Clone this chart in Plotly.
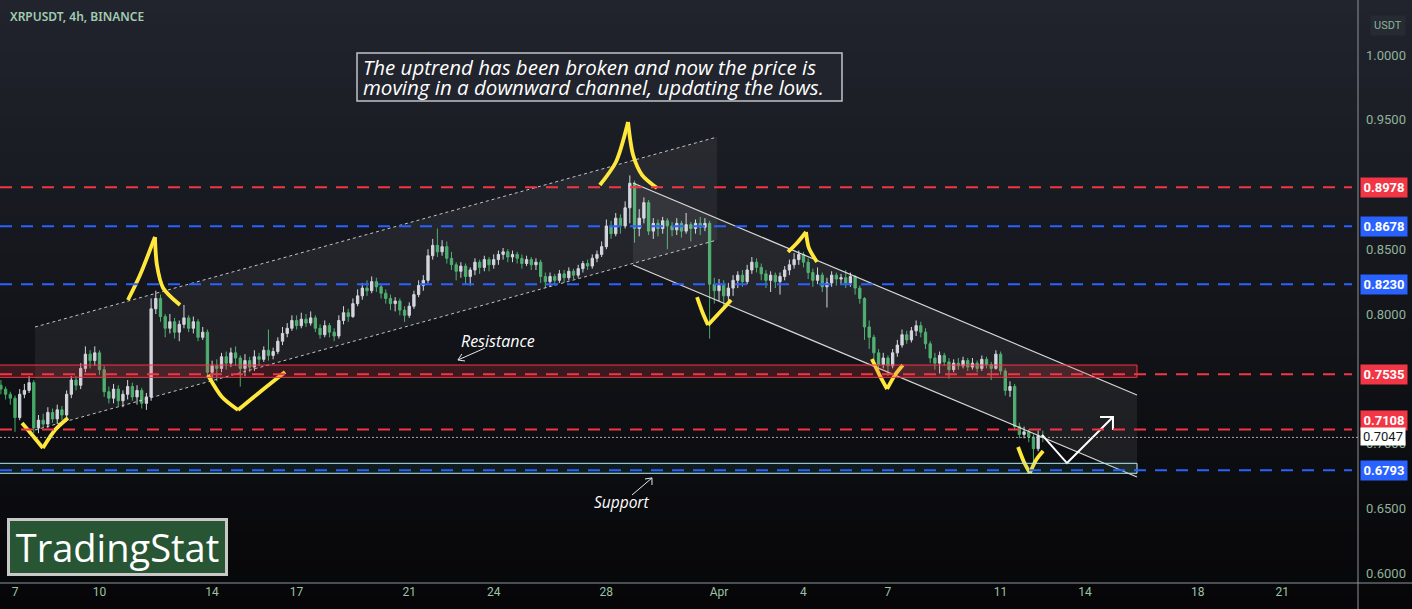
import pandas as pd
import plotly.graph_objects as go

# ---------------- data ----------------
BAR_START = "2024-03-06 12:00"
close = [.742,.738,.735,.720,.738,.741,.747,.712,.718,.715,
         .724,.719,.726,.722,.738,.749,.745,.758,.769,.764,
         .770,.757,.740,.735,.742,.733,.738,.744,.736,.741,
         .731,.736,.804,.812,.798,.789,.794,.786,.792,.797,
         .789,.794,.782,.786,.755,.760,.758,.767,.762,.770,
         .766,.758,.764,.759,.767,.765,.772,.768,.771,.779,
         .785,.789,.795,.791,.796,.793,.797,.789,.784,.791,
         .786,.783,.795,.801,.798,.808,.814,.820,.818,.825,
         .821,.816,.812,.808,.810,.803,.799,.806,.815,.822,
         .826,.845,.853,.848,.852,.843,.838,.833,.837,.829,
         .834,.840,.836,.842,.838,.842,.846,.848,.844,.846,
         .843,.839,.842,.838,.840,.829,.825,.829,.826,.831,
         .828,.833,.830,.835,.839,.837,.843,.846,.852,.868,
         .862,.874,.868,.882,.901,.866,.874,.886,.864,.870,
         .866,.872,.868,.865,.870,.864,.869,.866,.870,.867,
         .870,.823,.818,.822,.814,.820,.826,.830,.825,.834,
         .840,.836,.831,.826,.830,.825,.829,.834,.838,.842,
         .846,.840,.832,.826,.830,.821,.824,.830,.827,.828,
         .824,.829,.820,.812,.790,.782,.770,.761,.766,.760,
         .770,.776,.784,.780,.787,.791,.786,.777,.766,.762,
         .768,.763,.757,.762,.760,.764,.759,.762,.758,.765,
         .761,.758,.769,.756,.741,.744,.713,.707,.709,.705,
         .696,.706,.7047]
high = [.749,.744,.740,.737,.742,.746,.752,.749,.722,.723,
        .728,.727,.730,.729,.741,.752,.752,.762,.775,.772,
        .775,.772,.760,.744,.746,.745,.741,.749,.747,.745,
        .743,.739,.812,.818,.815,.800,.800,.797,.795,.807,
        .799,.798,.796,.790,.788,.764,.765,.770,.771,.774,
        .775,.768,.769,.767,.772,.770,.775,.788,.774,.782,
        .790,.793,.799,.799,.801,.800,.802,.799,.792,.795,
        .793,.789,.799,.806,.804,.812,.819,.824,.826,.829,
        .828,.823,.819,.815,.813,.812,.806,.809,.818,.826,
        .830,.850,.858,.866,.857,.856,.848,.840,.840,.839,
        .836,.843,.842,.845,.844,.846,.849,.851,.850,.849,
        .848,.846,.845,.844,.843,.842,.832,.832,.831,.834,
        .834,.836,.835,.838,.841,.842,.846,.849,.856,.873,
        .872,.878,.877,.887,.907,.903,.881,.890,.888,.874,
        .873,.875,.874,.871,.874,.872,.878,.871,.873,.875,
        .874,.872,.828,.827,.826,.824,.830,.833,.834,.838,
        .844,.843,.839,.834,.833,.832,.832,.837,.842,.847,
        .849,.848,.843,.835,.836,.832,.828,.833,.832,.831,
        .834,.832,.830,.822,.813,.795,.784,.773,.770,.768,
        .773,.780,.788,.787,.790,.795,.794,.789,.779,.770,
        .771,.770,.766,.765,.766,.767,.766,.766,.764,.768,
        .767,.763,.772,.771,.758,.748,.746,.716,.713,.711,
        .707,.710,.710]
low = [.738,.734,.730,.709,.718,.735,.739,.708,.708,.712,
       .712,.716,.715,.718,.720,.735,.741,.742,.755,.758,
       .760,.753,.736,.731,.731,.729,.728,.734,.733,.730,
       .727,.726,.733,.800,.794,.782,.785,.781,.779,.789,
       .786,.785,.779,.780,.752,.750,.748,.755,.757,.759,
       .760,.744,.752,.755,.756,.760,.763,.764,.765,.769,
       .776,.782,.787,.788,.789,.790,.791,.786,.781,.782,
       .782,.779,.781,.792,.794,.797,.806,.811,.814,.816,
       .817,.812,.808,.803,.802,.799,.794,.797,.804,.813,
       .818,.824,.842,.844,.845,.839,.834,.826,.828,.823,
       .822,.830,.831,.833,.833,.835,.838,.842,.840,.840,
       .839,.835,.837,.834,.834,.824,.820,.821,.822,.824,
       .824,.826,.827,.828,.832,.834,.835,.840,.844,.850,
       .858,.860,.862,.866,.870,.855,.860,.870,.861,.858,
       .860,.862,.850,.860,.861,.859,.862,.856,.862,.861,
       .864,.781,.808,.810,.804,.810,.814,.820,.821,.823,
       .831,.832,.826,.820,.817,.820,.815,.826,.830,.835,
       .838,.836,.827,.821,.823,.817,.805,.821,.822,.823,
       .820,.821,.815,.808,.780,.773,.762,.755,.758,.752,
       .758,.767,.774,.777,.778,.783,.782,.773,.762,.757,
       .754,.760,.750,.755,.757,.758,.756,.757,.755,.756,
       .758,.749,.757,.753,.737,.736,.710,.704,.704,.701,
       .680,.694,.701]
first_open = 0.745

# horizontal levels
red_levels = [0.8978, 0.7535, 0.7108]
blue_levels = [0.8678, 0.8230, 0.6793]
last_price = 0.7047
resistance_zone = [0.7511, 0.7606]
support_zone = [0.6770, 0.6847]

# x-axis ticks (day counted from 1 March; 32 = 1 April)
tick_days = [7, 10, 14, 17, 21, 24, 28, 32, 35, 38, 42, 45, 49, 52]
tick_text = ["7", "10", "14", "17", "21", "24", "28", "Apr", "4", "7", "11", "14", "18", "21"]
y_ticks = [0.60, 0.65, 0.70, 0.80, 0.85, 0.95, 1.00]

# channels (day, price)
up_channel_top = [(7.710, 0.78996), (31.929, 0.93668)]
up_channel_bot = [(7.710, 0.71042), (31.929, 0.85714)]
dn_channel_top = [(28.946, 0.90116), (46.844, 0.73745)]
dn_channel_bot = [(28.946, 0.83784), (46.844, 0.67413)]
zone_days = [5.0, 46.844]

# yellow hand-drawn strokes (day, price)
yellow_strokes = [
    [(7.25, 0.7158), (7.64, 0.7058), (7.99, 0.6965)],
    [(7.99, 0.6965), (8.42, 0.7104), (8.88, 0.7197)],
    [(11.01, 0.8108), (11.44, 0.8301), (11.97, 0.8595)],
    [(11.97, 0.8595), (12.04, 0.8378), (12.26, 0.8201), (12.86, 0.8069)],
    [(13.85, 0.7529), (14.35, 0.7359), (14.92, 0.7259)],
    [(14.92, 0.7259), (15.70, 0.7398), (16.59, 0.7552)],
    [(27.77, 0.8996), (28.34, 0.9174), (28.77, 0.9483)],
    [(28.77, 0.9483), (28.95, 0.9228), (29.27, 0.9073), (29.80, 0.8973)],
    [(31.22, 0.8131), (31.42, 0.8010), (31.61, 0.7915)],
    [(31.61, 0.7915), (32.04, 0.8015), (32.43, 0.8108)],
    [(34.45, 0.8479), (34.77, 0.8548), (35.09, 0.8633)],
    [(35.09, 0.8633), (35.19, 0.8510), (35.48, 0.8402)],
    [(37.43, 0.7653), (37.72, 0.7521), (37.97, 0.7421)],
    [(37.97, 0.7421), (38.25, 0.7529), (38.53, 0.7606)],
    [(42.62, 0.6973), (42.83, 0.6857), (43.04, 0.6772)],
    [(43.04, 0.6772), (43.26, 0.6873), (43.51, 0.6942)],
]
white_arrow = [[(43.47, 0.7066), (44.358, 0.6849), (45.99, 0.7205)],
               [(45.53, 0.7205), (45.99, 0.7205), (45.99, 0.7104)]]
res_arrow = [[(23.69, 0.7737), (22.73, 0.7645)],
             [(22.87, 0.7691), (22.73, 0.7645), (22.98, 0.7637)]]
sup_arrow = [[(28.91, 0.6602), (29.62, 0.6734)],
             [(29.37, 0.6726), (29.62, 0.6734), (29.62, 0.6680)]]
res_label = (24.15, 0.7792)
sup_label = (28.52, 0.6548)
idea_lines = ["The uptrend has been broken and now the price is",
              "moving in a downward channel, updating the lows."]

# ---------------- helpers ----------------
MAR1 = pd.Timestamp("2024-03-01")
PW, PH = 1358.0, 583.0  # plot area in px


def md(d):
    return MAR1 + pd.Timedelta(days=d - 1)


def px_x(p):
    return p / PW


def px_y(p):
    return 1 - p / PH


def strokes_xy(strokes):
    xs, ys = [], []
    for s in strokes:
        for d, p in s:
            xs.append(md(d))
            ys.append(p)
        xs.append(None)
        ys.append(None)
    return xs, ys


times = pd.date_range(BAR_START, periods=len(close), freq="4h")
opens = [first_open] + close[:-1]

fig = go.Figure()

# background gradient (bands)
N = 48
top_rgb = (33, 36, 45)
bot_rgb = (6, 6, 8)
y_bot, y_top = -0.046, 1.0
for k in range(N):
    f = (k + 0.5) / N
    col = tuple(int(round(bot_rgb[j] + (top_rgb[j] - bot_rgb[j]) * f)) for j in range(3))
    fig.add_shape(type="rect", xref="paper", yref="paper",
                  x0=-0.01, x1=1.05,
                  y0=y_bot + (y_top - y_bot) * k / N,
                  y1=y_bot + (y_top - y_bot) * (k + 1) / N + 0.002,
                  fillcolor="rgb(%d,%d,%d)" % col, line_width=0, layer="below")


def channel(top, bot, fill):
    xs = [md(top[0][0]), md(top[1][0]), md(bot[1][0]), md(bot[0][0]), md(top[0][0])]
    ys = [top[0][1], top[1][1], bot[1][1], bot[0][1], top[0][1]]
    fig.add_trace(go.Scatter(x=xs, y=ys, fill="toself", fillcolor=fill,
                             line=dict(width=0), mode="lines", hoverinfo="skip",
                             showlegend=False))


channel(up_channel_top, up_channel_bot, "rgba(255,255,255,0.06)")
channel(dn_channel_top, dn_channel_bot, "rgba(255,255,255,0.07)")

# candles
fig.add_trace(go.Candlestick(
    x=times, open=opens, high=high, low=low, close=close,
    increasing=dict(line=dict(color="#d1d4dc", width=1), fillcolor="#d1d4dc"),
    decreasing=dict(line=dict(color="#45ab68", width=1), fillcolor="#45ab68"),
    whiskerwidth=0, hoverinfo="skip", showlegend=False))

# channel edges
for ln, dash, col, w in [(up_channel_top, "dot", "rgba(225,225,225,0.85)", 1),
                         (up_channel_bot, "dot", "rgba(225,225,225,0.85)", 1),
                         (dn_channel_top, "solid", "rgba(235,235,235,0.9)", 1.2),
                         (dn_channel_bot, "solid", "rgba(235,235,235,0.9)", 1.2)]:
    fig.add_trace(go.Scatter(x=[md(ln[0][0]), md(ln[1][0])], y=[ln[0][1], ln[1][1]],
                             mode="lines", line=dict(color=col, width=w, dash=dash),
                             hoverinfo="skip", showlegend=False))

# zones
fig.add_shape(type="rect", xref="x", yref="y", x0=md(zone_days[0]), x1=md(zone_days[1]),
              y0=resistance_zone[0], y1=resistance_zone[1],
              fillcolor="rgba(242,54,69,0.2)", line=dict(color="#f23645", width=1), layer="above")
fig.add_shape(type="rect", xref="x", yref="y", x0=md(zone_days[0]), x1=md(zone_days[1]),
              y0=support_zone[0], y1=support_zone[1],
              fillcolor="rgba(38,166,154,0.10)", line=dict(color="#b2ebf2", width=1), layer="above")

# dashed levels
x_end = 1352 / PW
for lv in red_levels:
    fig.add_shape(type="line", xref="paper", yref="y", x0=0, x1=x_end, y0=lv, y1=lv,
                  line=dict(color="#f23645", width=2, dash="12px,9px"), layer="above")
for lv in blue_levels:
    fig.add_shape(type="line", xref="paper", yref="y", x0=0, x1=x_end, y0=lv, y1=lv,
                  line=dict(color="#2962ff", width=2, dash="12px,9px"), layer="above")
fig.add_shape(type="line", xref="paper", yref="y", x0=0, x1=1, y0=last_price, y1=last_price,
              line=dict(color="rgba(210,210,210,0.8)", width=1, dash="2px,2px"), layer="above")

# yellow strokes
xs, ys = strokes_xy(yellow_strokes)
fig.add_trace(go.Scatter(x=xs, y=ys, mode="lines", connectgaps=False,
                         line=dict(color="#ffe83b", width=3.8, shape="spline", smoothing=0.8),
                         hoverinfo="skip", showlegend=False))
xs, ys = strokes_xy(white_arrow)
fig.add_trace(go.Scatter(x=xs, y=ys, mode="lines", connectgaps=False,
                         line=dict(color="#ffffff", width=2), hoverinfo="skip", showlegend=False))
xs, ys = strokes_xy(res_arrow + sup_arrow)
fig.add_trace(go.Scatter(x=xs, y=ys, mode="lines", connectgaps=False,
                         line=dict(color="#e8e8e8", width=1), hoverinfo="skip", showlegend=False))

# axis frame lines
fig.add_shape(type="line", xref="paper", yref="paper", x0=1, x1=1, y0=-0.05, y1=1,
              line=dict(color="#8f929a", width=1), layer="above")
fig.add_shape(type="line", xref="paper", yref="paper", x0=0, x1=1.05, y0=0, y1=0,
              line=dict(color="#8f929a", width=1), layer="above")

# idea text box
fig.add_shape(type="rect", xref="paper", yref="paper",
              x0=px_x(357), x1=px_x(842), y0=px_y(101), y1=px_y(53),
              fillcolor="#21242c", line=dict(color="#c0c2c8", width=1.5), layer="above")

ann = []
# price tags (0.7108 nudged up as in the reference to avoid the last-price tag)
tag_shift = {0.7108: 9}
for lv in red_levels:
    ann.append(dict(x=1, xref="paper", xanchor="left", xshift=2, y=lv, yref="y",
                    yshift=tag_shift.get(lv, 0),
                    text="<b>%.4f</b>" % lv, showarrow=False, bgcolor="#f23645",
                    font=dict(color="white", size=13, family="Roboto"), width=42, borderpad=2))
for lv in blue_levels:
    ann.append(dict(x=1, xref="paper", xanchor="left", xshift=2, y=lv, yref="y",
                    text="<b>%.4f</b>" % lv, showarrow=False, bgcolor="#2962ff",
                    font=dict(color="white", size=13, family="Roboto"), width=42, borderpad=2))
ann.append(dict(x=1, xref="paper", xanchor="left", xshift=2, y=last_price, yref="y",
                yshift=1,
                text="%.4f" % last_price, showarrow=False, bgcolor="#ffffff",
                font=dict(color="#131722", size=13, family="Roboto"), width=42, borderpad=1))
ann.append(dict(x=1, xref="paper", xanchor="left", xshift=12, y=px_y(15), yref="paper",
                text="USDT", showarrow=False, bgcolor="#262a33",
                font=dict(color="#8fb39a", size=11, family="Roboto"), borderpad=3))
# title
ann.append(dict(x=px_x(8), xref="paper", xanchor="left", y=px_y(16), yref="paper",
                yanchor="middle", text="XRPUSDT, 4h, BINANCE", showarrow=False,
                font=dict(color="#a3cbb0", size=12, family="Noto Sans", weight=600)))
# idea text lines
for k, line in enumerate(idea_lines):
    ann.append(dict(x=px_x(361), xref="paper", xanchor="left", y=px_y(67 + 20 * k), yref="paper",
                    yanchor="middle", align="left", showarrow=False, text=line,
                    font=dict(color="white", size=20.5, family="Open Sans", style="italic")))
# labels
ann.append(dict(x=md(res_label[0]), y=res_label[1], xref="x", yref="y", text="Resistance",
                showarrow=False, font=dict(color="white", size=16, family="Open Sans", style="italic")))
ann.append(dict(x=md(sup_label[0]), y=sup_label[1], xref="x", yref="y", text="Support",
                showarrow=False, font=dict(color="white", size=15.5, family="Open Sans", style="italic")))
# logo
ann.append(dict(x=px_x(7), xref="paper", xanchor="left", y=px_y(576), yref="paper",
                yanchor="bottom", text="TradingStat", showarrow=False,
                font=dict(color="white", size=38, family="Open Sans"),
                bgcolor="#285634", bordercolor="#c8c8c8", borderwidth=3, borderpad=2,
                width=211, height=48))

fig.update_layout(
    width=1412, height=609,
    margin=dict(l=0, r=54, t=0, b=26),
    paper_bgcolor="#0a0a0c", plot_bgcolor="rgba(0,0,0,0)",
    showlegend=False, annotations=ann,
    xaxis=dict(type="date", range=[md(6.4673), md(54.692)], rangeslider=dict(visible=False),
               showgrid=False, zeroline=False, showline=False,
               tickvals=[md(d) for d in tick_days], ticktext=tick_text,
               tickfont=dict(color="#9cc3a6", size=12, family="Roboto"), ticks=""),
    yaxis=dict(side="right", range=[0.59228, 1.04247], showgrid=False, zeroline=False,
               showline=False, tickvals=y_ticks, tickformat=".4f", ticks="",
               ticklabelstandoff=7,
               tickfont=dict(color="#8fb39a", size=13, family="Roboto")),
)

fig.write_html("out.html")
